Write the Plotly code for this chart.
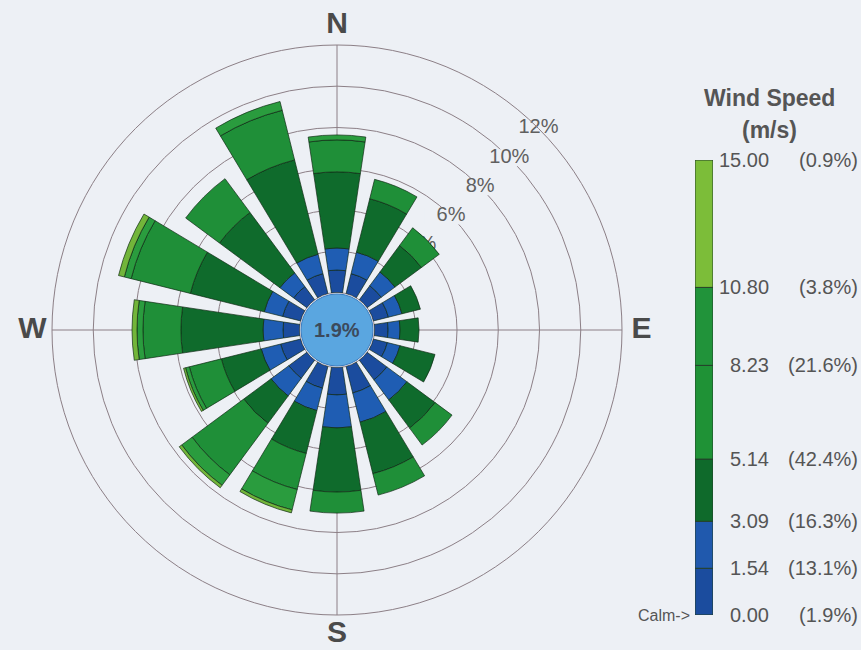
import plotly.graph_objects as go

# ---------------- data ----------------
directions = ["N", "NNE", "NE", "ENE", "E", "ESE", "SE", "SSE",
              "S", "SSW", "SW", "WSW", "W", "WNW", "NW", "NNW"]
dir_angles = [0, 22.5, 45, 67.5, 90, 112.5, 135, 157.5,
              180, 202.5, 225, 247.5, 270, 292.5, 315, 337.5]

# frequency (%) per direction for each wind-speed class
freq_000_154 = [1.09, 1.00, 0.85, 0.75, 0.66, 0.70, 1.19, 1.33, 1.33, 1.09, 1.09, 1.00, 0.80, 0.90, 0.80, 1.00]
freq_154_309 = [1.07, 1.07, 0.83, 0.68, 0.58, 0.63, 1.21, 1.46, 1.60, 1.12, 1.07, 0.97, 0.97, 0.92, 0.83, 0.97]
freq_309_514 = [3.69, 2.67, 1.60, 0.92, 0.92, 1.75, 1.70, 2.57, 3.11, 2.14, 1.65, 1.99, 3.98, 3.69, 3.64, 4.71]
freq_514_823 = [1.55, 0.97, 1.07, 0.00, 0.00, 0.00, 1.02, 1.07, 1.02, 1.80, 3.11, 1.60, 1.84, 2.96, 2.04, 2.48]
freq_823_1080 = [0.24, 0.00, 0.00, 0.00, 0.00, 0.00, 0.00, 0.00, 0.00, 1.02, 0.63, 0.19, 0.29, 0.34, 0.00, 0.44]
freq_1080_1500 = [0.00, 0.00, 0.00, 0.00, 0.00, 0.00, 0.00, 0.00, 0.00, 0.15, 0.15, 0.10, 0.24, 0.29, 0.00, 0.00]

class_names = ["0.00 - 1.54", "1.54 - 3.09", "3.09 - 5.14", "5.14 - 8.23", "8.23 - 10.80", "10.80 - 15.00"]
class_freqs = [freq_000_154, freq_154_309, freq_309_514, freq_514_823, freq_823_1080, freq_1080_1500]

ring_values = [4, 6, 8, 10, 12]
ring_labels = ["4%", "6%", "8%", "10%", "12%"]
compass_angles = [0, 90, 180, 270]
compass_labels = ["N", "E", "S", "W"]
compass_r = 12.95

calm_pct = 1.9
legend_bounds = [0.00, 1.54, 3.09, 5.14, 8.23, 10.80, 15.00]
legend_pcts = [1.9, 13.1, 16.3, 42.4, 21.6, 3.8, 0.9]

# ---------------- styles ----------------
W, H = 861, 650
BG = "#edf0f5"
GRID = "#8c7f86"
TXT = "#555555"
FONT = "Liberation Sans, Arial, sans-serif"
petal_colors = ["#1b4c9e", "#1f5db3", "#0f6b2c", "#1f8f38", "#2a9c3e", "#72b53a"]
legend_colors = ["#1b4c9e", "#2059ad", "#0f6a2b", "#1f9236", "#21933a", "#7cbd39"]

cx, cy, R = 337, 330, 285          # pixel centre / outer radius of rose (12 %)
hole_px = 37.5
calm_r = 36
RMAX = 12
px_per_unit = (R - hole_px) / RMAX
R3 = 318                           # outer radius of the label-only polar
R3_max = (R3 - hole_px) / px_per_unit

fig = go.Figure()

# --- base polar: grid and ring labels ---
fig.add_trace(go.Scatterpolar(
    r=ring_values, theta=[45] * len(ring_values), mode="markers+text",
    text=ring_labels, textposition="middle center",
    textfont=dict(size=20, color="#5f5f5f", family=FONT),
    marker=dict(symbol="line-ew", size=38, color=BG, line=dict(width=17, color=BG)),
    hoverinfo="skip", showlegend=False, cliponaxis=False, subplot="polar"))

# --- overlay polar: petals ---
for name, vals, col in zip(class_names, class_freqs, petal_colors):
    fig.add_trace(go.Barpolar(
        r=vals, theta=dir_angles, width=[17] * len(dir_angles), name=name,
        marker=dict(color=col, line=dict(color="rgba(15,40,20,0.85)", width=0.8)),
        showlegend=False, hoverinfo="skip", subplot="polar2"))

# --- label polar: compass letters just outside the 12 % ring ---
fig.add_trace(go.Scatterpolar(
    r=[compass_r] * len(compass_angles), theta=compass_angles, mode="text",
    text=compass_labels, textposition="middle center",
    textfont=dict(size=30, color="#4a4a4a", family=FONT, weight="bold"),
    hoverinfo="skip", showlegend=False, cliponaxis=False, subplot="polar3"))

# legend bar (cartesian, linear in wind speed)
lows = legend_bounds[:-1]
diffs = [b - a for a, b in zip(legend_bounds[:-1], legend_bounds[1:])]
fig.add_trace(go.Bar(
    x=[0] * len(diffs), y=diffs, base=lows, width=1,
    marker=dict(color=legend_colors, line=dict(color="#24402a", width=1)),
    showlegend=False, hoverinfo="skip", xaxis="x", yaxis="y"))

annotations = []
for b, p in zip(legend_bounds, legend_pcts):
    annotations.append(dict(x=771 / W, xref="paper", y=b, yref="y", xanchor="right", yanchor="middle",
                            text=f"{b:.2f}", showarrow=False,
                            font=dict(size=20, color=TXT, family=FONT)))
    annotations.append(dict(x=860 / W, xref="paper", y=b, yref="y", xanchor="right", yanchor="middle",
                            text=f"({p}%)", showarrow=False,
                            font=dict(size=20, color=TXT, family=FONT)))
annotations.append(dict(x=692 / W, xref="paper", y=legend_bounds[0], yref="y", xanchor="right",
                        yanchor="middle", text="Calm->", showarrow=False,
                        font=dict(size=16, color=TXT, family=FONT)))
annotations.append(dict(x=769 / W, xref="paper", y=(H - 98) / H, yref="paper", xanchor="center",
                        yanchor="middle", text="<b>Wind Speed</b>", showarrow=False,
                        font=dict(size=23, color=TXT, family=FONT)))
annotations.append(dict(x=769 / W, xref="paper", y=(H - 130) / H, yref="paper", xanchor="center",
                        yanchor="middle", text="<b>(m/s)</b>", showarrow=False,
                        font=dict(size=23, color=TXT, family=FONT)))
annotations.append(dict(x=cx / W, xref="paper", y=(H - cy) / H, yref="paper", xanchor="center",
                        yanchor="middle", text=f"<b>{calm_pct}%</b>", showarrow=False,
                        font=dict(size=20, color="#3c4a5c", family=FONT)))

shapes = [dict(type="circle", xref="paper", yref="paper",
               x0=(cx - calm_r) / W, x1=(cx + calm_r) / W,
               y0=(H - cy - calm_r) / H, y1=(H - cy + calm_r) / H,
               fillcolor="#5aa6e0", line=dict(color="#3a7cc0", width=1), layer="above")]

polar_domain = dict(x=[(cx - R) / W, (cx + R) / W], y=[(H - cy - R) / H, (H - cy + R) / H])
polar3_domain = dict(x=[(cx - R3) / W, (cx + R3) / W], y=[(H - cy - R3) / H, (H - cy + R3) / H])

hidden_angular = dict(rotation=90, direction="clockwise", showgrid=False,
                      showticklabels=False, ticks="", showline=False)

fig.update_layout(
    width=W, height=H, margin=dict(l=0, r=0, t=0, b=0),
    paper_bgcolor=BG, plot_bgcolor=BG, showlegend=False,
    barmode="overlay",
    polar=dict(
        domain=polar_domain, bgcolor=BG, hole=hole_px / R,
        radialaxis=dict(range=[0, RMAX], tickmode="array", tickvals=[2, 4, 6, 8, 10, 12],
                        showticklabels=False, ticks="", showline=False,
                        gridcolor=GRID, gridwidth=1),
        angularaxis=dict(rotation=90, direction="clockwise", tickmode="array",
                         tickvals=compass_angles, ticks="", showticklabels=False,
                         gridcolor=GRID, gridwidth=1, showline=True, linecolor=GRID, linewidth=1),
    ),
    polar2=dict(
        domain=polar_domain, bgcolor="rgba(0,0,0,0)", hole=hole_px / R,
        barmode="stack", bargap=0,
        radialaxis=dict(range=[0, RMAX], visible=False, showgrid=False),
        angularaxis=hidden_angular,
    ),
    polar3=dict(
        domain=polar3_domain, bgcolor="rgba(0,0,0,0)", hole=hole_px / R3,
        radialaxis=dict(range=[0, R3_max], visible=False, showgrid=False),
        angularaxis=hidden_angular,
    ),
    xaxis=dict(domain=[695 / W, 713 / W], range=[-0.5, 0.5], visible=False, fixedrange=True),
    yaxis=dict(domain=[(H - 615) / H, (H - 160) / H], range=[0, 15], visible=False, fixedrange=True),
    annotations=annotations, shapes=shapes,
)

fig.write_html("out.html")
